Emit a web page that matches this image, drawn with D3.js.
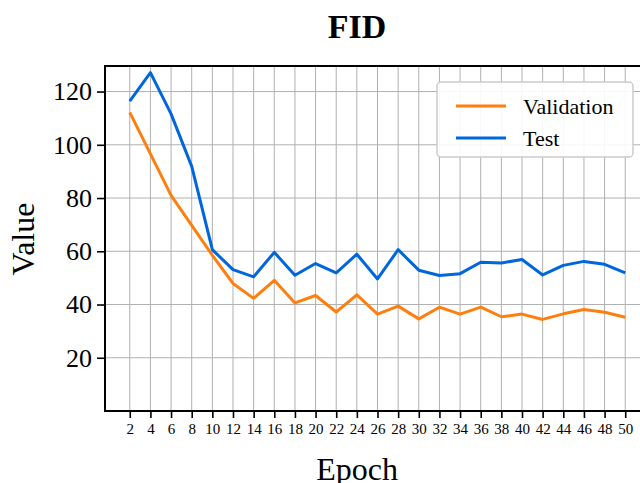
<!DOCTYPE html>
<html>
<head>
<meta charset="utf-8">
<script src="https://cdn.jsdelivr.net/npm/d3@7"></script>
<style>
  body { margin: 0; background: #fff; }
  svg, svg text { font-family: "Times New Roman", "Liberation Serif", Tinos, serif; }
</style>
</head>
<body>
<div id="chart"></div>
<script>
const epochs = [2, 4, 6, 8, 10, 12, 14, 16, 18, 20, 22, 24, 26, 28, 30, 32, 34, 36, 38, 40, 42, 44, 46, 48, 50];
const validation = [112.2, 96.6, 81, 69.7, 58.5, 47.9, 42.3, 49.1, 40.6, 43.4, 37.2, 43.6, 36.4, 39.4, 34.6, 39.0, 36.4, 39.0, 35.4, 36.4, 34.4, 36.5, 38.1, 37.1, 35.2];
const test = [116.4, 127.1, 111.6, 91.9, 60.6, 53.1, 50.4, 59.6, 51.0, 55.4, 51.9, 58.9, 49.6, 60.6, 52.9, 50.9, 51.6, 55.9, 55.6, 56.9, 51.1, 54.7, 56.2, 55.1, 51.9];
const yTicks = [20, 40, 60, 80, 100, 120];

const series = [
  { name: 'Validation', values: validation, color: '#ff7f0e' },
  { name: 'Test', values: test, color: '#0066dd' }
];

const W = 640, H = 483;
const margin = { top: 66, right: -10, bottom: 72, left: 105 };
const width = W - margin.left - margin.right;
const height = H - margin.top - margin.bottom;
const serif = '"Times New Roman", "Liberation Serif", Tinos, serif';

const svg = d3.select('#chart')
  .append('svg')
  .attr('width', W)
  .attr('height', H)
  .attr('font-family', serif);

const g = svg.append('g')
  .attr('transform', `translate(${margin.left},${margin.top})`);

const x = d3.scaleLinear().domain([-0.4, 52.4]).range([0, width]);
const y = d3.scaleLinear().domain([0, 129.6]).range([height, 0]);

// grid
g.append('g')
  .selectAll('line')
  .data(epochs)
  .join('line')
  .attr('x1', d => x(d)).attr('x2', d => x(d))
  .attr('y1', 0).attr('y2', height)
  .attr('stroke', '#b0b0b0')
  .attr('stroke-width', 1);

g.append('g')
  .selectAll('line')
  .data(yTicks)
  .join('line')
  .attr('x1', 0).attr('x2', width)
  .attr('y1', d => y(d)).attr('y2', d => y(d))
  .attr('stroke', '#b0b0b0')
  .attr('stroke-width', 1);

// lines
const line = d3.line()
  .x((d, i) => x(epochs[i]))
  .y(d => y(d));

g.selectAll('.series')
  .data(series)
  .join('path')
  .attr('class', 'series')
  .attr('d', d => line(d.values))
  .attr('fill', 'none')
  .attr('stroke', d => d.color)
  .attr('stroke-width', 3)
  .attr('stroke-linejoin', 'round');

// axes
const xAxis = g.append('g')
  .attr('transform', `translate(0,${height})`)
  .call(d3.axisBottom(x).tickValues(epochs).tickSize(7).tickPadding(5));
xAxis.selectAll('text').style('font-size', '15px').attr('fill', '#000');

const yAxis = g.append('g')
  .call(d3.axisLeft(y).tickValues(yTicks).tickSize(8).tickPadding(5));
yAxis.selectAll('text').style('font-size', '26px').attr('fill', '#000');

[xAxis, yAxis].forEach(a => {
  a.select('.domain').remove();
  a.selectAll('line').attr('stroke', '#000').attr('stroke-width', 1.6);
  a.attr('font-family', serif);
});

// frame
g.append('rect')
  .attr('width', width)
  .attr('height', height)
  .attr('fill', 'none')
  .attr('stroke', '#000')
  .attr('stroke-width', 2);

// legend
const legend = svg.append('g').attr('transform', 'translate(437,82)');
legend.append('rect')
  .attr('width', 196).attr('height', 75)
  .attr('rx', 4)
  .attr('fill', '#fff')
  .attr('fill-opacity', 0.9)
  .attr('stroke', '#cccccc')
  .attr('stroke-width', 1.5);

legend.selectAll('.entry')
  .data(series)
  .join('g')
  .attr('class', 'entry')
  .attr('transform', (d, i) => `translate(0,${24 + i * 32})`)
  .each(function(d) {
    const e = d3.select(this);
    e.append('line')
      .attr('x1', 19).attr('x2', 69)
      .attr('stroke', d.color).attr('stroke-width', 3);
    e.append('text')
      .attr('x', 86).attr('dy', '0.35em')
      .style('font-size', '22px')
      .text(d.name);
  });

// titles
svg.append('text')
  .attr('x', 357).attr('y', 38)
  .attr('text-anchor', 'middle')
  .style('font-size', '34px')
  .style('font-weight', 'bold')
  .text('FID');

svg.append('text')
  .attr('x', 357).attr('y', 480)
  .attr('text-anchor', 'middle')
  .style('font-size', '32px')
  .text('Epoch');

svg.append('text')
  .attr('transform', 'translate(34,239) rotate(-90)')
  .attr('text-anchor', 'middle')
  .style('font-size', '32px')
  .text('Value');
</script>
</body>
</html>
